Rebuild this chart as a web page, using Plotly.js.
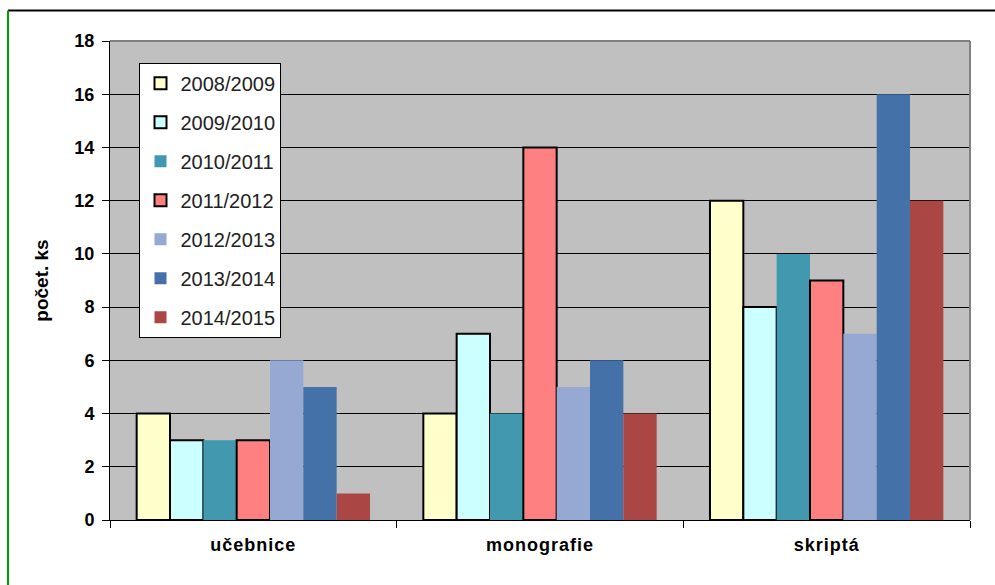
<!DOCTYPE html>
<html><head><meta charset="utf-8">
<script src="https://cdn.plot.ly/plotly-3.0.1.min.js"></script>
<style>html,body{margin:0;padding:0;background:#fff}#chart{width:995px;height:585px}
.xtick text{letter-spacing:1px}</style>
</head><body><div id="chart"></div>
<script>
const categories = ['učebnice', 'monografie', 'skriptá'];
const seriesNames = ['2008/2009', '2009/2010', '2010/2011', '2011/2012', '2012/2013', '2013/2014', '2014/2015'];
const s2008 = [4, 4, 12];
const s2009 = [3, 7, 8];
const s2010 = [3, 4, 10];
const s2011 = [3, 14, 9];
const s2012 = [6, 5, 7];
const s2013 = [5, 6, 16];
const s2014 = [1, 4, 12];
const seriesValues = [s2008, s2009, s2010, s2011, s2012, s2013, s2014];
const colors = ['#FFFFCC', '#CCFFFF', '#4198AF', '#FF8080', '#95A9D2', '#4472A8', '#AA4644'];
const outlined = [true, true, false, true, false, false, false];
const yTicks = [0, 2, 4, 6, 8, 10, 12, 14, 16, 18];

const traces = seriesNames.map((n, i) => ({
  type: 'bar', name: n, x: categories, y: seriesValues[i],
  legendgroup: 'g' + i,
  marker: {color: colors[i], line: {color: outlined[i] ? '#000' : colors[i], width: outlined[i] ? 2 : 0}},
  hoverinfo: 'none'
}));

const layout = {
  width: 995, height: 585,
  margin: {l: 110, r: 25, t: 41, b: 65},
  paper_bgcolor: '#fff', plot_bgcolor: '#C0C0C0',
  barmode: 'group', bargap: 0.186, bargroupgap: 0,
  font: {family: 'Liberation Sans, Arial, sans-serif', color: '#000'},
  showlegend: true,
  legend: {
    x: 0.0343, y: 0.9547, xanchor: 'left', yanchor: 'top',
    bgcolor: '#fff', bordercolor: '#000', borderwidth: 1,
    font: {size: 20, color: '#222'}, traceorder: 'grouped', tracegroupgap: 10,
    itemwidth: 30
  },
  xaxis: {
    showline: true, linecolor: '#000', linewidth: 1,
    ticks: 'outside', tickson: 'boundaries', ticklen: 7, tickcolor: '#000',
    tickfont: {size: 18},
    tickvals: categories, ticktext: categories.map(c => '<b>' + c + '</b>'),
    ticklabelstandoff: 8,
    showgrid: false, fixedrange: true
  },
  yaxis: {
    range: [0, 18],
    showline: true, linecolor: '#000', linewidth: 1,
    ticks: 'outside', ticklen: 7, tickcolor: '#000',
    showgrid: true, gridcolor: '#000', gridwidth: 1, zeroline: false,
    tickfont: {size: 18},
    tickvals: yTicks, ticktext: yTicks.map(v => '<b>' + v + '</b>'),
    ticklabelstandoff: 4,
    title: {text: '<b>počet. ks</b>', font: {size: 19}, standoff: 20},
    fixedrange: true
  },
  shapes: [
    {type: 'line', xref: 'paper', yref: 'paper', x0: 0, x1: 1, y0: 1, y1: 1, line: {color: '#808080', width: 2}},
    {type: 'line', xref: 'paper', yref: 'paper', x0: 1, x1: 1, y0: 0, y1: 1, line: {color: '#808080', width: 2}},
    {type: 'line', xref: 'paper', yref: 'paper', x0: -0.1186, x1: 1.04, y0: 1.0637, y1: 1.0637, line: {color: '#000', width: 2}},
    {type: 'line', xref: 'paper', yref: 'paper', x0: -0.1186, x1: -0.1186, y0: 1.0637, y1: -0.14, line: {color: '#00A000', width: 2}}
  ]
};

Plotly.newPlot('chart', traces, layout, {displayModeBar: false, staticPlot: true});
</script></body></html>
